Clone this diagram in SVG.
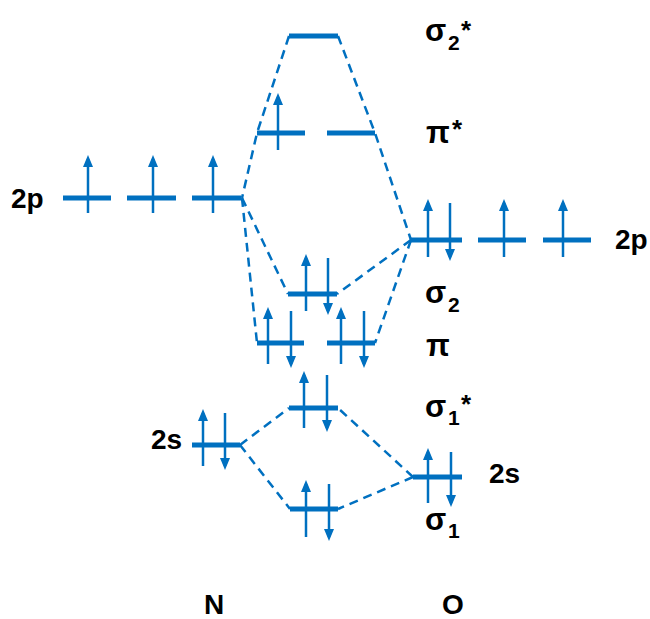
<svg xmlns="http://www.w3.org/2000/svg" width="650" height="619" viewBox="0 0 650 619">
<defs>
<marker id="ah" viewBox="0 0 12 10" refX="8" refY="5" markerWidth="12" markerHeight="10" markerUnits="userSpaceOnUse" orient="auto">
<path d="M0,0 L12,5 L0,10 Z" fill="#0070C0"/>
</marker>
<style>
.lv{stroke:#0070C0;stroke-width:5;fill:none}
.e{stroke:#0070C0;stroke-width:2.5;fill:none;marker-end:url(#ah)}
.d{stroke:#0070C0;stroke-width:2.5;fill:none;stroke-dasharray:9 6}
.t{font-family:"Liberation Sans",Arial,sans-serif;font-weight:bold;fill:#000}
.m{font-size:28px}
.g{font-size:31px}
.s{font-size:21px}
.a{font-size:26px}
</style>
</defs>
<rect width="650" height="619" fill="#fff"/>
<g id="connectors">
<path class="d" d="M289,36 L257,133 L242,198"/>
<path class="d" d="M338,36 L375,133 L411,240"/>
<path class="d" d="M242,198 L288,294"/>
<path class="d" d="M242,198 L257,343"/>
<path class="d" d="M411,240 L337,294"/>
<path class="d" d="M411,240 L375,343"/>
<path class="d" d="M240,445 L289,408"/>
<path class="d" d="M240,445 L290,509"/>
<path class="d" d="M413,477 L338,408"/>
<path class="d" d="M413,477 L338,509"/>
</g>
<g id="sigma2star">
<line class="lv" x1="289" y1="36" x2="338" y2="36"/>
<text class="t g" x="425" y="41">σ</text><text class="t s" x="448" y="50">2</text><text class="t a" x="461" y="39">*</text>
</g>
<g id="pistar">
<line class="lv" x1="257" y1="133" x2="305" y2="133"/>
<line class="lv" x1="327" y1="133" x2="375" y2="133"/>
<line class="e" x1="278" y1="150" x2="278" y2="97"/>
<text class="t g" x="426" y="143">π</text><text class="t a" x="452" y="138">*</text>
</g>
<g id="N2p">
<line class="lv" x1="63" y1="198" x2="111" y2="198"/>
<line class="lv" x1="127" y1="198" x2="176" y2="198"/>
<line class="lv" x1="192" y1="198" x2="241" y2="198"/>
<line class="e" x1="88" y1="213" x2="88" y2="159"/>
<line class="e" x1="153" y1="213" x2="153" y2="159"/>
<line class="e" x1="213" y1="213" x2="213" y2="159"/>
<text class="t m" x="11" y="208">2p</text>
</g>
<g id="O2p">
<line class="lv" x1="411" y1="240" x2="462" y2="240"/>
<line class="lv" x1="478" y1="240" x2="526" y2="240"/>
<line class="lv" x1="543" y1="240" x2="591" y2="240"/>
<line class="e" x1="428" y1="257" x2="428" y2="203"/>
<line class="e" x1="450" y1="203" x2="450" y2="257"/>
<line class="e" x1="504" y1="257" x2="504" y2="203"/>
<line class="e" x1="563" y1="257" x2="563" y2="203"/>
<text class="t m" x="615" y="249">2p</text>
</g>
<g id="sigma2">
<line class="lv" x1="288" y1="294" x2="337" y2="294"/>
<line class="e" x1="306" y1="311" x2="306" y2="258"/>
<line class="e" x1="328" y1="258" x2="328" y2="311"/>
<text class="t g" x="425" y="303">σ</text><text class="t s" x="448" y="312">2</text>
</g>
<g id="pi">
<line class="lv" x1="257" y1="343" x2="304" y2="343"/>
<line class="lv" x1="327" y1="343" x2="375" y2="343"/>
<line class="e" x1="268" y1="364" x2="268" y2="311"/>
<line class="e" x1="291" y1="311" x2="291" y2="364"/>
<line class="e" x1="341" y1="364" x2="341" y2="311"/>
<line class="e" x1="364" y1="311" x2="364" y2="364"/>
<text class="t g" x="426" y="356">π</text>
</g>
<g id="sigma1star">
<line class="lv" x1="289" y1="408" x2="338" y2="408"/>
<line class="e" x1="304" y1="428" x2="304" y2="375"/>
<line class="e" x1="327" y1="375" x2="327" y2="428"/>
<text class="t g" x="425" y="417">σ</text><text class="t s" x="448" y="425">1</text><text class="t a" x="461" y="413">*</text>
</g>
<g id="N2s">
<line class="lv" x1="192" y1="445" x2="240" y2="445"/>
<line class="e" x1="203" y1="466" x2="203" y2="413"/>
<line class="e" x1="225" y1="413" x2="225" y2="466"/>
<text class="t m" x="151" y="449">2s</text>
</g>
<g id="O2s">
<line class="lv" x1="413" y1="477" x2="462" y2="477"/>
<line class="e" x1="428" y1="503" x2="428" y2="452"/>
<line class="e" x1="451" y1="452" x2="451" y2="503"/>
<text class="t m" x="489" y="483">2s</text>
</g>
<g id="sigma1">
<line class="lv" x1="290" y1="509" x2="338" y2="509"/>
<line class="e" x1="306" y1="537" x2="306" y2="484"/>
<line class="e" x1="329" y1="484" x2="329" y2="537"/>
<text class="t g" x="425" y="530">σ</text><text class="t s" x="448" y="538">1</text>
</g>
<g id="N">
<text class="t m" x="204" y="614">N</text>
</g>
<g id="O">
<text class="t m" x="442" y="614">O</text>
</g>
</svg>
